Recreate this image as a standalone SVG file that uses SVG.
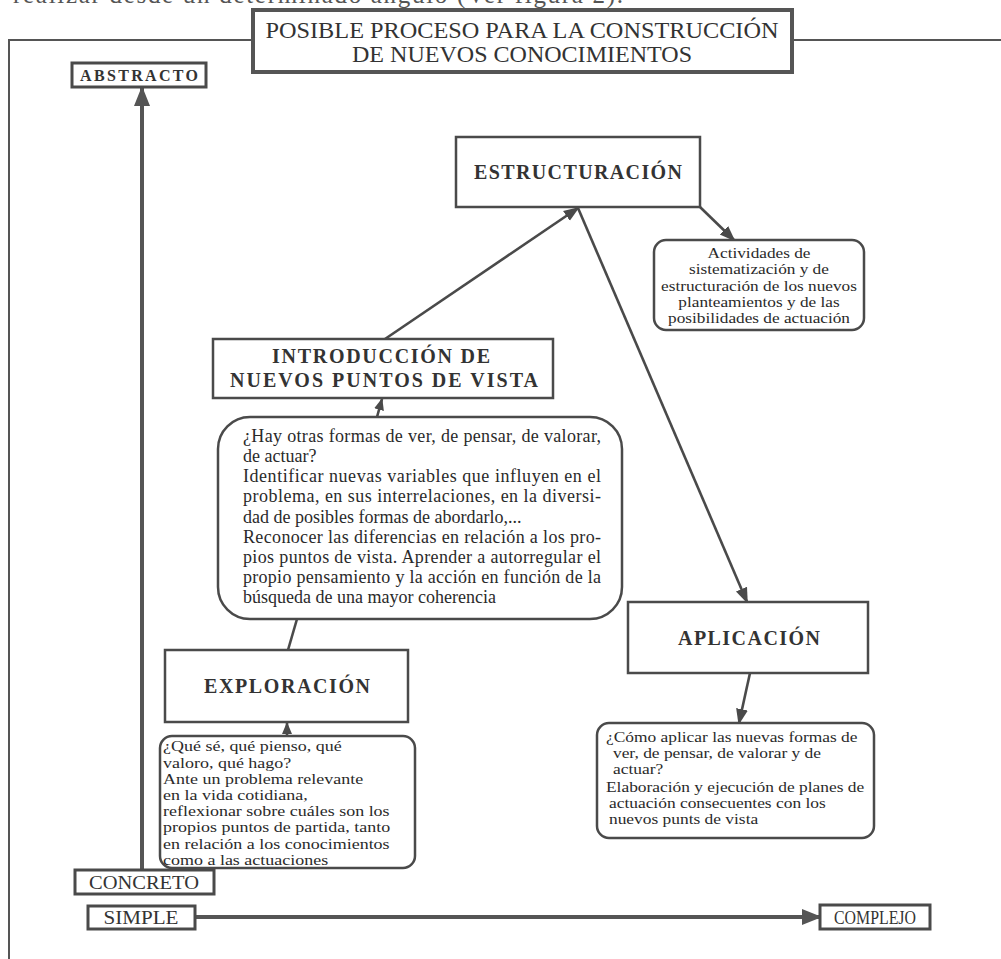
<svg xmlns="http://www.w3.org/2000/svg" width="1001" height="959" viewBox="0 0 1001 959">
<style>
.box{fill:#fff;stroke:#4a4a4a;stroke-width:2.5}
.tbox{fill:#fff;stroke:#555;stroke-width:4}
.lbl{fill:#fff;stroke:#4a4a4a;stroke-width:3}
.con{stroke:#4a4a4a;stroke-width:2.6;fill:none}
.axis{stroke:#555;stroke-width:4;fill:none}
.frame{stroke:#555;stroke-width:2;fill:none}
.h{font-family:"Liberation Serif",serif;font-weight:bold;fill:#333;text-anchor:middle}
.t{font-family:"Liberation Serif",serif;fill:#2a2a2a;font-size:18px}
.s{font-family:"Liberation Serif",serif;fill:#2a2a2a;font-size:14.5px}
.c{font-family:"Liberation Serif",serif;fill:#333;text-anchor:middle}
</style>
<defs>
<marker id="ah" markerUnits="userSpaceOnUse" markerWidth="16" markerHeight="14" refX="14" refY="7" orient="auto">
<path d="M0,1 L16,7 L0,13 z" fill="#4a4a4a"/>
</marker>
<marker id="ahs" markerUnits="userSpaceOnUse" markerWidth="12" markerHeight="12" refX="11" refY="6" orient="auto">
<path d="M0,1 L12,6 L0,11 z" fill="#4a4a4a"/>
</marker>
<marker id="ahb" markerUnits="userSpaceOnUse" markerWidth="20" markerHeight="18" refX="18" refY="9" orient="auto">
<path d="M0,1 L20,9 L0,17 z" fill="#555"/>
</marker>
</defs>

<text x="13" y="3" font-family="'Liberation Serif',serif" font-size="25" fill="#555" textLength="610">realizar desde un determinado ángulo (Ver figura 2).</text>

<g id="frame">
<path class="frame" d="M9,959 V40 H253 M792,40 H1001"/>
</g>

<g id="title">
<rect class="tbox" x="253" y="10" width="539" height="62"/>
<text class="c" x="522" y="38" font-size="23" textLength="513" lengthAdjust="spacingAndGlyphs">POSIBLE PROCESO PARA LA CONSTRUCCIÓN</text>
<text class="c" x="522" y="62" font-size="23" textLength="340" lengthAdjust="spacingAndGlyphs">DE NUEVOS CONOCIMIENTOS</text>
</g>

<g id="connectors">
<line class="axis" x1="142" y1="870" x2="142" y2="88" marker-end="url(#ahb)"/>
<line class="axis" x1="195" y1="917" x2="820" y2="917" marker-end="url(#ahb)"/>
<line class="con" x1="385" y1="339" x2="578" y2="208" marker-end="url(#ah)"/>
<line class="con" x1="578" y1="208" x2="747" y2="602" marker-end="url(#ah)"/>
<line class="con" x1="700" y1="207" x2="734" y2="240" marker-end="url(#ah)"/>
<line class="con" x1="750" y1="673" x2="739" y2="723" marker-end="url(#ah)"/>
<line class="con" x1="377" y1="417" x2="382" y2="399" marker-end="url(#ahs)"/>
<line class="con" x1="297" y1="619" x2="288" y2="650"/>
<line class="con" x1="287" y1="736" x2="287" y2="723" marker-end="url(#ahs)"/>
</g>

<g id="abstracto">
<rect class="lbl" x="72" y="63" width="134" height="24"/>
<text class="h" x="139" y="81" font-size="16" textLength="118">ABSTRACTO</text>
</g>

<g id="concreto">
<rect class="lbl" x="75" y="870" width="139" height="24"/>
<text class="c" x="144" y="889" font-size="19" textLength="110" lengthAdjust="spacingAndGlyphs">CONCRETO</text>
</g>

<g id="simple">
<rect class="lbl" x="88" y="906" width="107" height="23"/>
<text class="c" x="141" y="924" font-size="19" textLength="75" lengthAdjust="spacingAndGlyphs">SIMPLE</text>
</g>

<g id="complejo">
<rect class="lbl" x="820" y="905" width="110" height="24"/>
<text class="c" x="875" y="924" font-size="19" textLength="82" lengthAdjust="spacingAndGlyphs">COMPLEJO</text>
</g>

<g id="estructuracion">
<rect class="box" x="456" y="137" width="244" height="70"/>
<text class="h" x="578" y="179" font-size="20" textLength="208">ESTRUCTURACIÓN</text>
</g>

<g id="actividades">
<rect class="box" x="654" y="240" width="210" height="90" rx="12"/>
<g transform="translate(759,0) scale(1.19,1)">
<text class="s" text-anchor="middle" x="0" y="258">Actividades de</text>
<text class="s" text-anchor="middle" x="0" y="274.3">sistematización y de</text>
<text class="s" text-anchor="middle" x="0" y="290.6">estructuración de los nuevos</text>
<text class="s" text-anchor="middle" x="0" y="306.9">planteamientos y de las</text>
<text class="s" text-anchor="middle" x="0" y="323.2">posibilidades de actuación</text>
</g>
</g>

<g id="introduccion">
<rect class="box" x="213" y="339" width="340" height="59"/>
<text class="h" x="381" y="363" font-size="20" textLength="218">INTRODUCCIÓN DE</text>
<text class="h" x="384" y="387" font-size="20" textLength="308">NUEVOS PUNTOS DE VISTA</text>
</g>

<g id="preguntas">
<rect class="box" x="218" y="417" width="404" height="202" rx="32"/>
<text class="t" x="243" y="442" textLength="358">¿Hay otras formas de ver, de pensar, de valorar,</text>
<text class="t" x="243" y="462">de actuar?</text>
<text class="t" x="243" y="482" textLength="358">Identificar nuevas variables que influyen en el</text>
<text class="t" x="243" y="502" textLength="358">problema, en sus interrelaciones, en la diversi-</text>
<text class="t" x="243" y="522.5">dad de posibles formas de abordarlo,...</text>
<text class="t" x="243" y="542.5" textLength="358">Reconocer las diferencias en relación a los pro-</text>
<text class="t" x="243" y="562.5" textLength="358">pios puntos de vista. Aprender a autorregular el</text>
<text class="t" x="243" y="582.5" textLength="358">propio pensamiento y la acción en función de la</text>
<text class="t" x="243" y="603">búsqueda de una mayor coherencia</text>
</g>

<g id="exploracion">
<rect class="box" x="165" y="650" width="243" height="72"/>
<text class="h" x="287" y="693" font-size="20" textLength="166">EXPLORACIÓN</text>
</g>

<g id="que-se">
<rect class="box" x="160" y="736" width="255" height="132" rx="12"/>
<g transform="translate(163,0) scale(1.24,1)">
<text class="s" x="0" y="751.5">¿Qué sé, qué pienso, qué</text>
<text class="s" x="0" y="767.7">valoro, qué hago?</text>
<text class="s" x="0" y="783.9">Ante un problema relevante</text>
<text class="s" x="0" y="800.1">en la vida cotidiana,</text>
<text class="s" x="0" y="816.3">reflexionar sobre cuáles son los</text>
<text class="s" x="0" y="832.5">propios puntos de partida, tanto</text>
<text class="s" x="0" y="848.7">en relación a los conocimientos</text>
<text class="s" x="0" y="864.9">como a las actuaciones</text>
</g>
</g>

<g id="aplicacion">
<rect class="box" x="628" y="602" width="240" height="71"/>
<text class="h" x="749" y="645" font-size="20" textLength="142">APLICACIÓN</text>
</g>

<g id="como-aplicar">
<rect class="box" x="597" y="723" width="277" height="115" rx="12"/>
<g transform="translate(606,0) scale(1.2,1)">
<text class="s" x="0" y="742">¿Cómo aplicar las nuevas formas de</text>
<text class="s" x="5.8" y="758">ver, de pensar, de valorar y de</text>
<text class="s" x="5.8" y="774">actuar?</text>
<text class="s" x="0" y="792">Elaboración y ejecución de planes de</text>
<text class="s" x="2.5" y="808.2">actuación consecuentes con los</text>
<text class="s" x="2.5" y="824.4">nuevos punts de vista</text>
</g>
</g>
</svg>
